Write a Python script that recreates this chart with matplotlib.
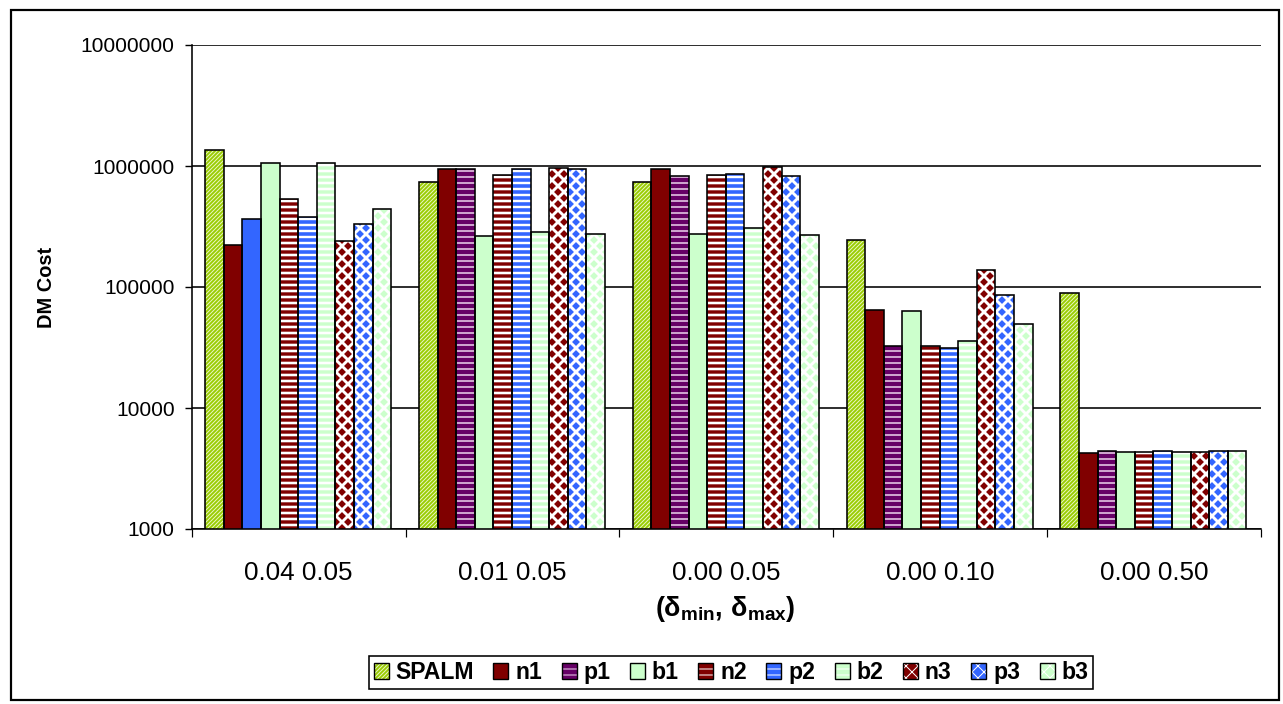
import matplotlib
matplotlib.use("Agg")
import matplotlib.pyplot as plt
from matplotlib.patches import Rectangle, Patch
from matplotlib.legend_handler import HandlerTuple
from matplotlib.ticker import FixedLocator, NullFormatter, FixedFormatter

# ---- data -------------------------------------------------------------
groups = ["0.04 0.05", "0.01 0.05", "0.00 0.05", "0.00 0.10", "0.00 0.50"]
series = ["SPALM", "n1", "p1", "b1", "n2", "p2", "b2", "n3", "p3", "b3"]

spalm = [1360000, 733000, 733000, 243000, 89000]
n1 = [222000, 945000, 950000, 65000, 4280]
p1 = [365000, 940000, 827000, 32300, 4390]
b1 = [1050000, 265000, 272000, 63700, 4330]
n2 = [533000, 843000, 843000, 32700, 4330]
p2 = [377000, 945000, 860000, 31300, 4390]
b2 = [1060000, 283000, 305000, 35500, 4330]
n3 = [242000, 955000, 975000, 139000, 4330]
p3 = [332000, 940000, 830000, 86000, 4450]
b3 = [442000, 276000, 270000, 49800, 4450]

values = [spalm, n1, p1, b1, n2, p2, b2, n3, p3, b3]
y_ticks = [1000, 10000, 100000, 1000000, 10000000]
y_tick_labels = ["1000", "10000", "100000", "1000000", "10000000"]

# ---- styles -----------------------------------------------------------
GREEN = "#99CC00"
DRED = "#800000"
PURPLE = "#660066"
LGREEN = "#CCFFCC"
BLUE = "#3366FF"

# face colour, hatch colour, hatch pattern, hatch line width
styles = {
    "SPALM": (GREEN, "#E8F5C0", "//////", 1.0),
    "n1": (DRED, None, None, 0),
    "p1": (PURPLE, "#F0D8F0", "--", 1.5),
    "b1": (LGREEN, None, None, 0),
    "n2": (DRED, "white", "--", 2.6),
    "p2": (BLUE, "white", "--", 2.4),
    "b2": (LGREEN, "white", "--", 2.6),
    "n3": (DRED, "white", "xx", 2.9),
    "p3": (BLUE, "white", "xx", 2.9),
    "b3": (LGREEN, "white", "xx", 2.9),
}
# the p1 bar of the first group is plain blue
special = {("p1", 0): (BLUE, None, None, 0)}

W_PX, H_PX, DPI = 1283, 704, 72
plt.rcParams["font.family"] = ["Liberation Sans", "DejaVu Sans"]
plt.rcParams["mathtext.fontset"] = "custom"
plt.rcParams["mathtext.rm"] = "Liberation Sans"
plt.rcParams["mathtext.it"] = "Liberation Sans"
plt.rcParams["mathtext.bf"] = "Liberation Sans:bold"

fig = plt.figure(figsize=(W_PX / DPI, H_PX / DPI), dpi=DPI)
ax = fig.add_axes([191.7 / W_PX, 1 - 529 / H_PX,
                   (1260.7 - 191.7) / W_PX, (529 - 45) / H_PX])
ax.set_yscale("log")
y_floor = y_ticks[0]
ax.set_ylim(y_ticks[0], y_ticks[-1])
ax.set_xlim(0, len(groups))

bar_w = 0.087
start = 0.063


def set_hlw(patch, lw):
    if hasattr(patch, "set_hatch_linewidth"):
        patch.set_hatch_linewidth(lw)


legend_handles = []
for j, (name, vals) in enumerate(zip(series, values)):
    for i, v in enumerate(vals):
        face, hcol, hatch, hlw = special.get((name, i), styles[name])
        x = i + start + j * bar_w
        ax.bar(x, v - y_floor, bottom=y_floor, width=bar_w, align="edge",
               color=face, edgecolor="none", linewidth=0, zorder=3)
        if hatch:
            with plt.rc_context({"hatch.linewidth": hlw}):
                bc = ax.bar(x, v - y_floor, bottom=y_floor, width=bar_w,
                            align="edge", facecolor="none", edgecolor=hcol,
                            hatch=hatch, linewidth=0, zorder=4)
            for p in bc:
                set_hlw(p, hlw)
        ax.bar(x, v - y_floor, bottom=y_floor, width=bar_w, align="edge",
               facecolor="none", edgecolor="black", linewidth=1.6, zorder=5)

    face, hcol, hatch, hlw = styles[name]
    parts = [Patch(facecolor=face, edgecolor="none", linewidth=0)]
    if hatch:
        with plt.rc_context({"hatch.linewidth": hlw}):
            hp = Patch(facecolor="none", edgecolor=hcol, hatch=hatch,
                       linewidth=0)
        set_hlw(hp, hlw)
        parts.append(hp)
    parts.append(Patch(facecolor="none", edgecolor="black", linewidth=1.4))
    legend_handles.append(tuple(parts))

# gridlines at each decade
ax.yaxis.set_major_locator(FixedLocator(y_ticks))
ax.yaxis.set_major_formatter(FixedFormatter(y_tick_labels))
ax.yaxis.set_minor_locator(FixedLocator([]))
ax.grid(axis="y", which="major", color="black", linewidth=1.6, zorder=1)
ax.set_axisbelow(True)
ax.tick_params(axis="y", which="major", length=7, width=1.4, pad=10,
               labelsize=21, direction="out")

ax.xaxis.set_major_locator(FixedLocator(range(len(groups) + 1)))
ax.xaxis.set_major_formatter(NullFormatter())
ax.xaxis.set_minor_locator(FixedLocator([i + 0.5 for i in range(len(groups))]))
ax.xaxis.set_minor_formatter(FixedFormatter(groups))
ax.tick_params(axis="x", which="major", length=8, width=1.2, direction="out")
ax.tick_params(axis="x", which="minor", length=0, pad=32, labelsize=26)

for s in ("top", "right"):
    ax.spines[s].set_visible(False)
for s in ("left", "bottom"):
    ax.spines[s].set_linewidth(1.6)

ax.set_ylabel("DM Cost", fontsize=20, fontweight="bold")
ax.yaxis.set_label_coords(-0.127, 0.5)

fig.text(725 / W_PX, 1 - 609 / H_PX, r"$\mathbf{(δ_{min},\,δ_{max})}$",
         ha="center", va="center", fontsize=27)

leg = fig.legend(legend_handles, series, loc="center",
                 bbox_to_anchor=(731 / W_PX, 1 - 672.5 / H_PX),
                 ncol=len(series), handler_map={tuple: HandlerTuple(ndivide=1)},
                 prop={"weight": "bold", "size": 23}, frameon=True,
                 fancybox=False, edgecolor="black", framealpha=1,
                 handlelength=0.65, handleheight=0.65, handletextpad=0.3,
                 columnspacing=0.85, borderpad=0.2, borderaxespad=0)
leg.get_frame().set_linewidth(1.6)

fig.patches.append(Rectangle((11 / W_PX, 1 - 700 / H_PX),
                             (1278.5 - 11) / W_PX, (700 - 10) / H_PX,
                             transform=fig.transFigure, fill=False,
                             edgecolor="black", linewidth=2.2))

fig.savefig("out.png", dpi=DPI)
